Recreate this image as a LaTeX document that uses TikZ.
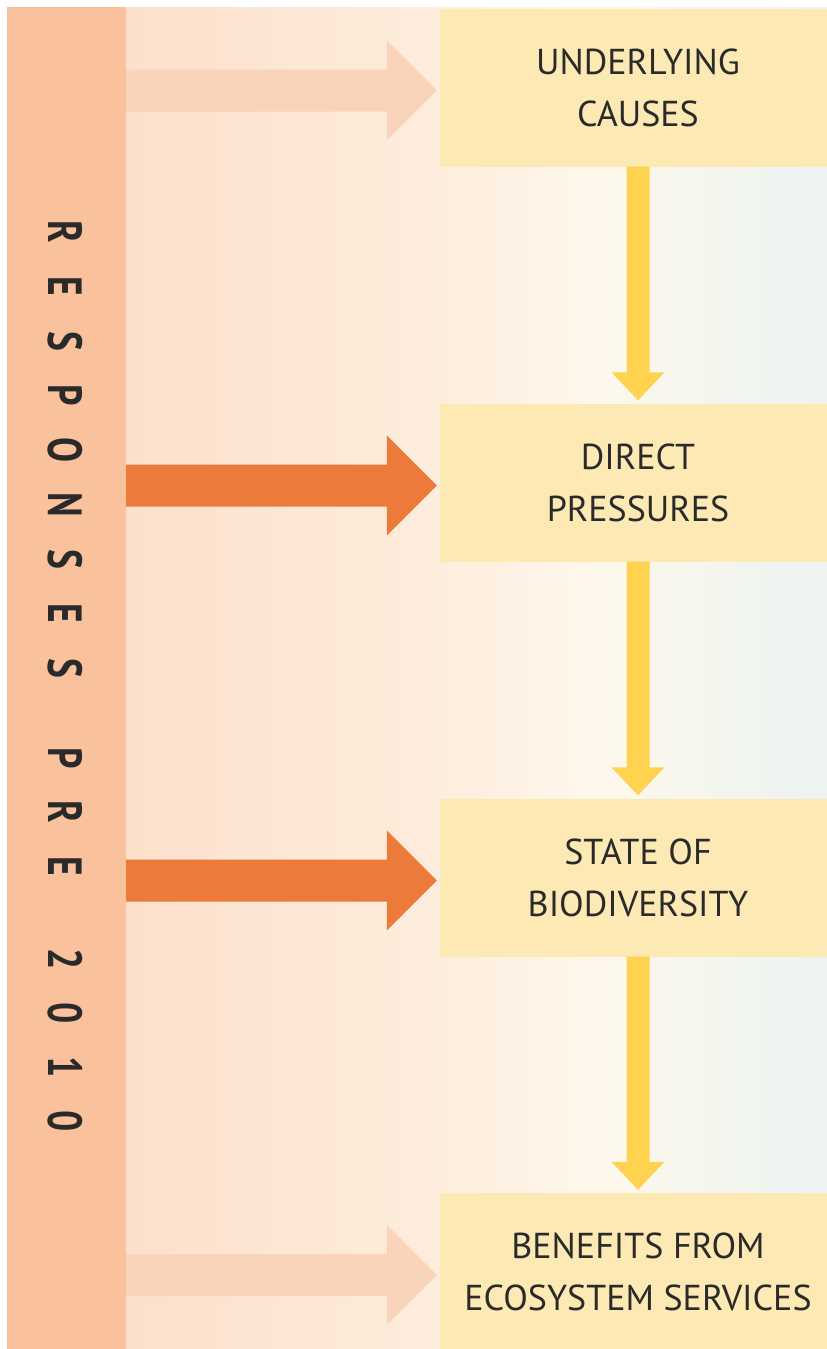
\documentclass[tikz,border=0pt]{standalone}
\usepackage{fontspec}
\usepackage{graphicx}
\setmainfont{PT Sans}
\usetikzlibrary{calc}
\definecolor{barpeach}{HTML}{F9C19C}
\definecolor{boxyellow}{HTML}{FDE9B3}
\definecolor{arrowyellow}{HTML}{FFD34F}
\definecolor{arrowstrong}{HTML}{EC7A3B}
\definecolor{arrowfaint}{HTML}{F9D4BB}
\definecolor{bgA}{HTML}{FCE0CC}
\definecolor{bgB}{HTML}{FDEDDD}
\definecolor{bgC}{HTML}{FEF8EC}
\definecolor{bgD}{HTML}{F5F6EE}
\definecolor{bgE}{HTML}{ECF3F1}
\definecolor{txt}{HTML}{2A2A2A}
\pgfdeclarehorizontalshading{bgshade}{100bp}{color(0bp)=(bgA); color(25bp)=(bgA); color(47.4bp)=(bgB); color(58.8bp)=(bgC); color(66bp)=(bgD); color(75bp)=(bgE); color(100bp)=(bgE)}
\newcommand\hFatArrow[3]{\fill[#1] ($(#2)+(0,-21)$) -- ($(#3)+(-50,-21)$) -- ($(#3)+(-50,-50)$) -- (#3) -- ($(#3)+(-50,50)$) -- ($(#3)+(-50,21)$) -- ($(#2)+(0,21)$) -- cycle;}
\newcommand\vFatArrow[3]{\fill[#1] ($(#2)+(-11.5,0)$) -- ($(#3)+(-11.5,-28)$) -- ($(#3)+(-26.5,-28)$) -- (#3) -- ($(#3)+(26.5,-28)$) -- ($(#3)+(11.5,-28)$) -- ($(#2)+(11.5,0)$) -- cycle;}
\begin{document}
\begin{tikzpicture}[x=1pt,y=-1pt,
  barstyle/.style={fill=barpeach, draw=none, minimum width=119pt, minimum height=1348pt, inner sep=0pt},
  boxstyle/.style={fill=boxyellow, draw=none, minimum width=396pt, minimum height=158pt, inner sep=0pt, align=center, text=txt, font=\fontsize{36}{52}\selectfont},
  vlet/.style={inner sep=0pt, text=txt, font=\fontsize{48}{48}\selectfont\bfseries, rotate=-90},
  strongarrow/.style={fill=arrowstrong},
  faintarrow/.style={fill=arrowfaint},
  downarrow/.style={fill=arrowyellow}]
\path[use as bounding box] (0,0) rectangle (827,1349);
\clip (0,0) rectangle (827,1349);
\shade[shading=bgshade] (126,7) rectangle (827,1349);
\node[barstyle] (bar) at (66.5,681) {};
\node[boxstyle] (b1) at (638,87.5) {UNDERLYING\\CAUSES};
\node[boxstyle] (b2) at (638,482.5) {DIRECT\\PRESSURES};
\node[boxstyle] (b3) at (638,877.5) {STATE OF\\BIODIVERSITY};
\node[boxstyle] (b4) at (638,1272) {BENEFITS FROM\\ECOSYSTEM SERVICES};
\foreach \k in {1,2,3,4}{
  \coordinate (h\k s) at ($(bar.east |- b\k.west)+(0,3)$);
  \coordinate (h\k t) at ($(b\k.west)+(-3,3)$);
}
\hFatArrow{faintarrow}{h1s}{h1t}
\hFatArrow{strongarrow}{h2s}{h2t}
\hFatArrow{strongarrow}{h3s}{h3t}
\hFatArrow{faintarrow}{h4s}{h4t}
\foreach \a/\b in {1/2,2/3,3/4}{
  \coordinate (v\a s) at (b\a.south);
  \coordinate (v\a t) at ($(b\b.north)+(0,-3)$);
}
\vFatArrow{downarrow}{v1s}{v1t}
\vFatArrow{downarrow}{v2s}{v2t}
\vFatArrow{downarrow}{v3s}{v3t}
\foreach \ch/\yy [count=\i] in {R/232,E/286.5,S/341,P/395.5,O/450,N/504.5,S/559,E/613.5,S/668,P/758,R/812,E/866,2/959,0/1013,1/1067,0/1121}{
  \node[vlet] (l\i) at (65.5,\yy) {\scalebox{0.78}[1]{\ch}};
}
\end{tikzpicture}
\end{document}
